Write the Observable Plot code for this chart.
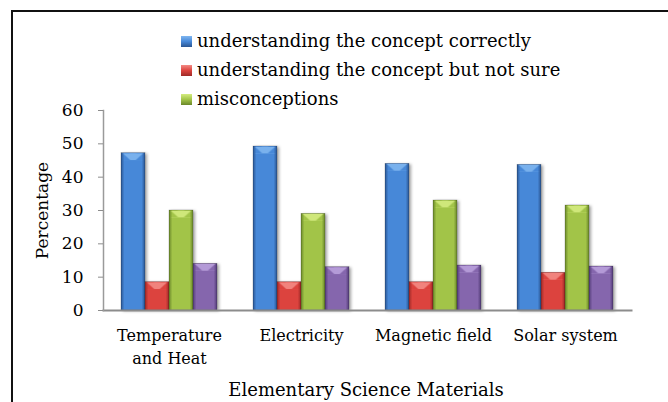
<!DOCTYPE html>
<html>
<head>
<meta charset="utf-8">
<script src="https://cdn.jsdelivr.net/npm/d3@7"></script>
<script src="https://cdn.jsdelivr.net/npm/@observablehq/plot@0.6"></script>
<style>
  html, body { margin: 0; padding: 0; background: #fff; overflow: hidden; }
  #wrap { position: relative; width: 668px; height: 402px; overflow: hidden; font-family: "DejaVu Serif", serif; color: #000; }
  #border { position: absolute; left: 11px; top: 10px; width: 720px; height: 500px; border-left: 2px solid #111; border-top: 2px solid #111; box-sizing: border-box; }
  #chart { position: absolute; left: 0; top: 0; }
  .leg { position: absolute; left: 181px; font-size: 18px; line-height: 20px; white-space: nowrap; }
  .sw { display: inline-block; width: 11px; height: 11px; margin-right: 5px; vertical-align: 0px; }
  #xtitle { position: absolute; left: 166px; width: 400px; text-align: center; top: 379px; font-size: 18px; line-height: 22px; }
</style>
</head>
<body>
<div id="wrap">
  <div id="border"></div>
  <div id="chart"></div>
  <div id="legend"></div>
  <div id="xtitle"></div>
</div>
<script>
const categories = ["Temperature\nand Heat", "Electricity", "Magnetic field", "Solar system"];
const seriesNames = [
  "understanding the concept correctly",
  "understanding the concept but not sure",
  "misconceptions",
  "series 4"
];
const legendNames = seriesNames.slice(0, 3);
const correct = [47.2, 49.2, 44.0, 43.7];
const notSure = [8.5, 8.5, 8.5, 11.3];
const misconceptions = [30.0, 29.0, 33.0, 31.5];
const series4 = [14.0, 13.0, 13.5, 13.2];
const yTicks = [0, 10, 20, 30, 40, 50, 60];
const xTitle = "Elementary Science Materials";
const yTitle = "Percentage";

const palette = [
  {id: "gBlue", edge: "#2a5592", mid: "#4788d8", hi: "#7fb6f0"},
  {id: "gRed", edge: "#9e2a27", mid: "#dc433e", hi: "#f38a84"},
  {id: "gGreen", edge: "#6a872a", mid: "#a2c448", hi: "#d4ec80"},
  {id: "gPurple", edge: "#533c78", mid: "#8566ad", hi: "#b9a0dc"}
];

const valuesBySeries = [correct, notSure, misconceptions, series4];
const data = [];
categories.forEach((c, i) => {
  seriesNames.forEach((s, j) => {
    data.push({category: c, series: s, value: valuesBySeries[j][i]});
  });
});

const bevelDepth = 2.4; // bevel cap depth in value units

const plot = Plot.plot({
  width: 668,
  height: 402,
  marginLeft: 102,
  marginRight: 37,
  marginTop: 110,
  marginBottom: 92,
  style: {fontFamily: "DejaVu Serif, serif", fontSize: "16px", color: "#000", background: "transparent", overflow: "visible"},
  fx: {domain: categories, padding: 0},
  x: {domain: seriesNames, paddingInner: 0, paddingOuter: 0.7, axis: null},
  y: {domain: [0, 60]},
  color: {domain: seriesNames, range: palette.map(p => `url(#${p.id})`)},
  marks: [
    Plot.barY(data, {fx: "category", x: "series", y: "value", fill: "series", inset: 0, stroke: "rgba(0,0,0,0.3)", strokeWidth: 0.6}),
    Plot.barY(data, {fx: "category", x: "series", y1: d => d.value - bevelDepth, y2: "value", fill: d => `url(#cap${seriesNames.indexOf(d.series)})`, inset: 0.6}),
    Plot.frame({anchor: "bottom", stroke: "#8c8c8c", strokeWidth: 2, facet: "super"}),
    Plot.frame({anchor: "left", stroke: "#9a9a9a", strokeWidth: 1.5, facet: "super"}),
    Plot.axisY({ticks: yTicks, tickSize: 5, tickPadding: 15, stroke: "#8c8c8c", fontSize: 17, label: yTitle, labelAnchor: "center", labelOffset: 68, labelArrow: "none", tickFormat: d => String(d)}),
    Plot.axisFx({anchor: "bottom", tickSize: 0, tickPadding: 14, label: null, fontSize: 16, lineHeight: 1.45})
  ]
});

const svg = d3.select(plot);
const defs = svg.insert("defs", ":first-child");
palette.forEach((p, i) => {
  const g = defs.append("linearGradient").attr("id", p.id).attr("x1", "0").attr("x2", "1").attr("y1", "0").attr("y2", "0");
  g.append("stop").attr("offset", "0%").attr("stop-color", p.edge);
  g.append("stop").attr("offset", "14%").attr("stop-color", p.mid);
  g.append("stop").attr("offset", "86%").attr("stop-color", p.mid);
  g.append("stop").attr("offset", "100%").attr("stop-color", p.edge);
  const pat = defs.append("pattern").attr("id", "cap" + i)
    .attr("patternUnits", "objectBoundingBox").attr("patternContentUnits", "objectBoundingBox")
    .attr("width", 1).attr("height", 1);
  pat.append("polygon").attr("points", "0.05,0 0.95,0 0.62,1 0.38,1").attr("fill", p.hi).attr("opacity", 0.9);
});
svg.selectAll("g[aria-label='bar']").filter((d, i) => i === 0).style("filter", "drop-shadow(2px 1px 1.5px rgba(0,0,0,0.35))");

document.getElementById("chart").appendChild(plot);

const legend = document.getElementById("legend");
const legendTops = [31, 60, 89];
legendNames.forEach((name, i) => {
  const p = palette[i];
  const row = document.createElement("div");
  row.className = "leg";
  row.style.top = legendTops[i] + "px";
  const sw = document.createElement("span");
  sw.className = "sw";
  sw.style.background = `linear-gradient(to bottom, ${p.hi}, ${p.mid} 50%, ${p.edge})`;
  row.appendChild(sw);
  row.appendChild(document.createTextNode(name));
  legend.appendChild(row);
});
document.getElementById("xtitle").textContent = xTitle;
</script>
</body>
</html>
